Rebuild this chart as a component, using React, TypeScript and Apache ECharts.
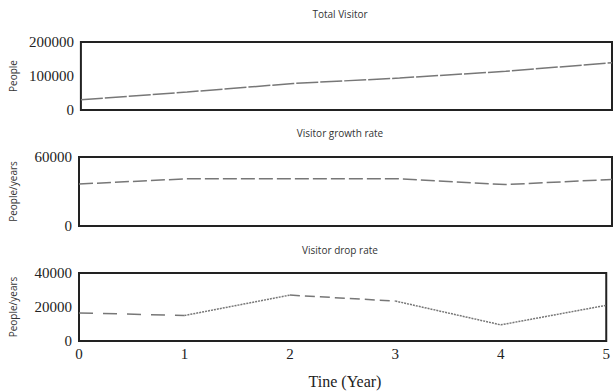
import React, { useEffect, useRef } from "react";
import * as echarts from "echarts";

const years = [0, 1, 2, 3, 4, 5];
const xTickLabels = ["0", "1", "2", "3", "4", "5"];
const totalVisitor = [30000, 53000, 78000, 94000, 114000, 139000];
const growthRate = [36500, 41000, 41000, 41000, 36000, 40500];
const dropRate = [16500, 15000, 27000, 23500, 9500, 21000];
const panelTitles = ["Total Visitor", "Visitor growth rate", "Visitor drop rate"];
const yNames = ["People", "People/years", "People/years"];
const xName = "Tine (Year)";

const SERIF = "'Liberation Serif', 'DejaVu Serif', serif";
const SANS = "'Open Sans', 'Liberation Sans', sans-serif";
const LINE = "#777";

export default function App() {
  const ref = useRef<HTMLDivElement>(null);
  useEffect(() => {
    if (!ref.current) return;
    const chart = echarts.init(ref.current, undefined, { renderer: "svg" });
    const grids = [
      { left: 79, right: 1, top: 42, height: 68 },
      { left: 79, right: 1, top: 157, height: 69 },
      { left: 79, right: 1, top: 273, height: 68 },
    ].map((g) => ({ ...g, show: true, borderColor: "#222", borderWidth: 2, backgroundColor: "transparent" }));

    const xAxes = [0, 1, 2].map((i) => ({
      type: "value",
      gridIndex: i,
      min: 0,
      max: 5,
      interval: 1,
      axisLine: { show: false },
      axisTick: { show: false },
      splitLine: { show: false },
      axisLabel: {
        show: i === 2,
        margin: 5,
        fontFamily: SERIF,
        fontSize: 15,
        color: "#222",
        formatter: (v: number) => xTickLabels[v] ?? "",
      },
    }));

    const yCfg = [
      { max: 200000, interval: 100000 },
      { max: 60000, interval: 60000 },
      { max: 40000, interval: 20000 },
    ];
    const yAxes = yCfg.map((c, i) => ({
      type: "value",
      gridIndex: i,
      min: 0,
      max: c.max,
      interval: c.interval,
      name: yNames[i],
      nameLocation: "middle",
      nameGap: 61,
      nameTextStyle: { fontFamily: SANS, fontSize: 10, color: "#333" },
      axisLine: { show: false },
      axisTick: { show: false },
      splitLine: { show: false },
      axisLabel: {
        margin: 7,
        fontFamily: SERIF,
        fontSize: 15,
        color: "#222",
        formatter: (v: number) => String(v),
      },
    }));

    const pts = (arr: number[]) => years.map((x, k) => [x, arr[k]]);
    const seg = (arr: number[], a: number, b: number) => years.slice(a, b + 1).map((x, k) => [x, arr[a + k]]);

    const base = { type: "line", showSymbol: false, symbol: "none", silent: true };
    const series: any[] = [
      { ...base, xAxisIndex: 0, yAxisIndex: 0, data: pts(totalVisitor), lineStyle: { color: LINE, width: 1.5, type: [22, 2] } },
      { ...base, xAxisIndex: 1, yAxisIndex: 1, data: pts(growthRate), lineStyle: { color: LINE, width: 1.5, type: [14, 4] } },
      { ...base, xAxisIndex: 2, yAxisIndex: 2, data: seg(dropRate, 0, 1), lineStyle: { color: LINE, width: 1.5, type: [14, 10] } },
      { ...base, xAxisIndex: 2, yAxisIndex: 2, data: seg(dropRate, 1, 2), lineStyle: { color: LINE, width: 1.5, type: [2, 1] } },
      { ...base, xAxisIndex: 2, yAxisIndex: 2, data: seg(dropRate, 2, 3), lineStyle: { color: LINE, width: 1.5, type: [10, 5] } },
      { ...base, xAxisIndex: 2, yAxisIndex: 2, data: seg(dropRate, 3, 5), lineStyle: { color: LINE, width: 1.5, type: [2, 1] } },
    ];

    const titleY = [14, 133, 250];
    const graphic: any[] = panelTitles.map((t, i) => ({
      type: "text",
      x: 340,
      y: titleY[i],
      style: { text: t, align: "center", verticalAlign: "middle", fontFamily: SANS, fontSize: 10, fill: "#333" },
    }));
    graphic.push({
      type: "text",
      x: 345,
      y: 381,
      style: { text: xName, align: "center", verticalAlign: "middle", fontFamily: SERIF, fontSize: 16, fill: "#222" },
    });

    chart.setOption({
      animation: false,
      backgroundColor: "#fff",
      grid: grids,
      xAxis: xAxes,
      yAxis: yAxes,
      series,
      graphic,
    });
    return () => chart.dispose();
  }, []);
  return <div ref={ref} style={{ position: "fixed", left: 0, top: 0, width: 613, height: 392 }} />;
}
